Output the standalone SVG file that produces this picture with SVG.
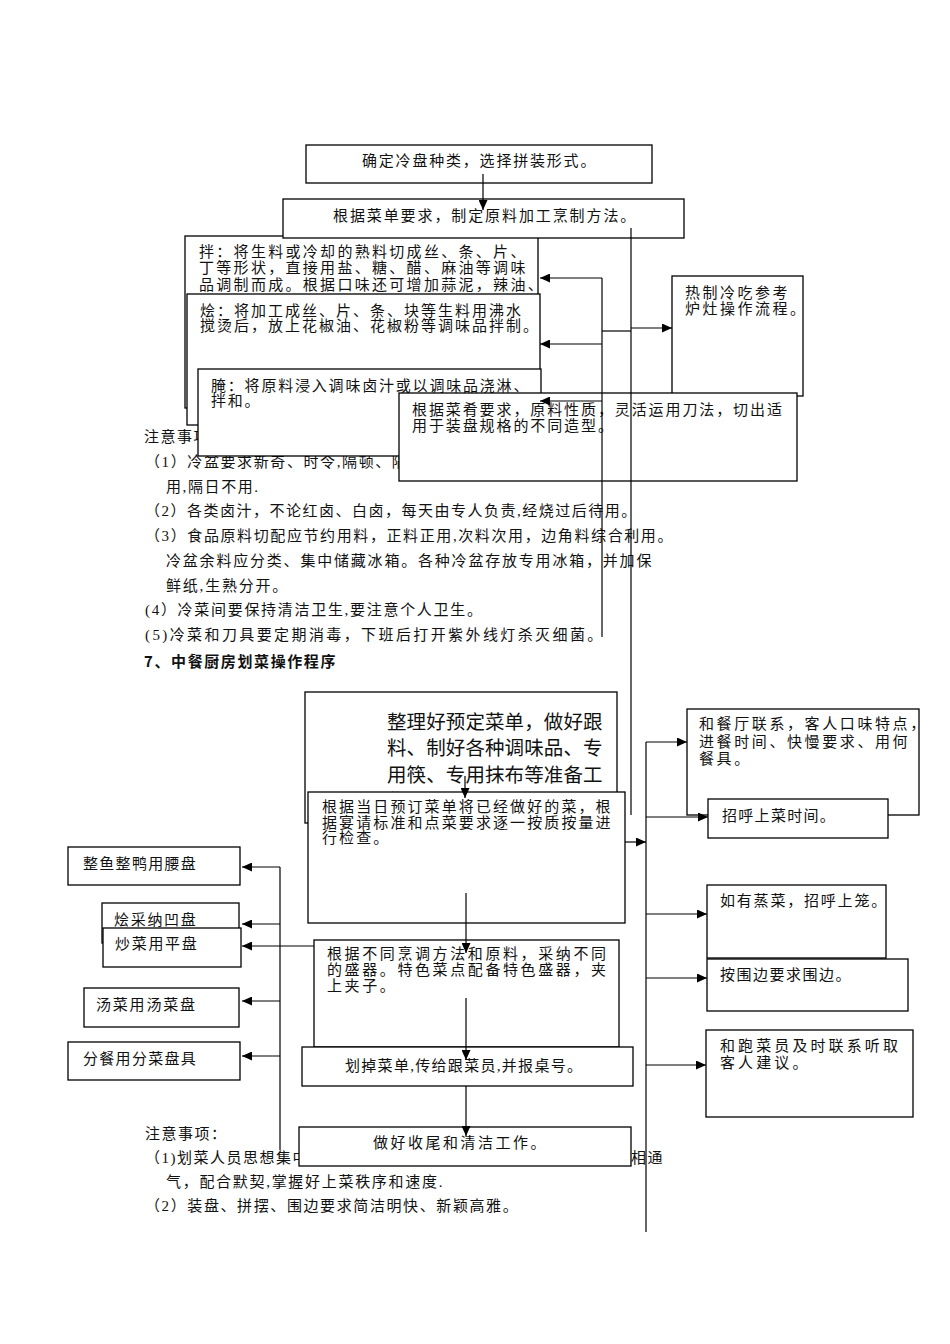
<svg xmlns="http://www.w3.org/2000/svg" width="950" height="1344" viewBox="0 0 950 1344">
<defs>
<style>
.box{fill:#fff;stroke:#000;stroke-width:1.3}
.t{font-family:"Liberation Serif","Noto Sans CJK SC",serif;font-size:15px;fill:#111}
.s{font-family:"Noto Sans CJK SC",sans-serif}
.b{font-family:"Noto Sans CJK SC",sans-serif;font-weight:bold}
.c{stroke:#000;stroke-width:1.2;fill:none}
.a{marker-end:url(#ah)}
</style>
<marker id="ah" markerUnits="userSpaceOnUse" markerWidth="10" markerHeight="9" refX="10" refY="4.5" orient="auto">
<path d="M0,0 L10,4.5 L0,9 z" fill="#000"/>
</marker>
</defs>
<rect width="950" height="1344" fill="#fff"/>

<g id="notes-top" class="t">
<text x="144" y="442" letter-spacing="1.5">注意事项：</text>
<text x="145" y="467" letter-spacing="1.6">（1）冷盆要求新奇、时令,隔顿、隔</text>
<text x="166" y="492" letter-spacing="1.6">用,隔日不用.</text>
<text x="145" y="516" letter-spacing="1.5">（2）各类卤汁，不论红卤、白卤，每天由专人负责,经烧过后待用。</text>
<text x="145" y="541" letter-spacing="1.6">（3）食品原料切配应节约用料，正料正用,次料次用，边角料综合利用。</text>
<text x="166" y="566" letter-spacing="1.8">冷盆余料应分类、集中储藏冰箱。各种冷盆存放专用冰箱，并加保</text>
<text x="166" y="591" letter-spacing="1.8">鲜纸,生熟分开。</text>
<text x="145" y="615" letter-spacing="1.7">(4）冷菜间要保持清洁卫生,要注意个人卫生。</text>
<text x="145" y="640" letter-spacing="2.4">(5)冷菜和刀具要定期消毒，下班后打开紫外线灯杀灭细菌。</text>
<text x="144" y="667" class="b" letter-spacing="1.6">7、中餐厨房划菜操作程序</text>
</g>

<g id="notes-bottom" class="t">
<text x="145" y="1139" letter-spacing="1.5">注意事项：</text>
<text x="145" y="1163" letter-spacing="1.5">（1)划菜人员思想集中</text>
<text x="631" y="1163" letter-spacing="1.5">相通</text>
<text x="166" y="1187" letter-spacing="1.7">气，配合默契,掌握好上菜秩序和速度.</text>
<text x="145" y="1211" letter-spacing="1.6">（2）装盘、拼摆、围边要求简洁明快、新颖高雅。</text>
</g>

<g id="n-select" class="t">
<rect class="box" x="306" y="145" width="346" height="38"/>
<text x="362" y="166" letter-spacing="1.8">确定冷盘种类，选择拼装形式。</text>
</g>
<g id="n-ban" class="t">
<rect class="box" x="185" y="236" width="353" height="172"/>
<text x="199" y="257" letter-spacing="2.3">拌：将生料或冷却的熟料切成丝、条、片、</text>
<text x="199" y="273" letter-spacing="2.3">丁等形状，直接用盐、糖、醋、麻油等调味</text>
<text x="199" y="290" letter-spacing="2.3">品调制而成。根据口味还可增加蒜泥，辣油、</text>
</g>
<g id="n-method" class="t">
<rect class="box" x="283" y="199" width="401" height="39"/>
<text x="333" y="221" letter-spacing="1.9">根据菜单要求，制定原料加工烹制方法。</text>
</g>
<g id="n-hui" class="t">
<rect class="box" x="187" y="294" width="353" height="131"/>
<text x="200" y="316" letter-spacing="2">烩：将加工成丝、片、条、块等生料用沸水</text>
<text x="200" y="331" letter-spacing="2">搅烫后，放上花椒油、花椒粉等调味品拌制。</text>
</g>
<g id="n-yan" class="t">
<rect class="box" x="198" y="369" width="343" height="87"/>
<text x="211" y="391" letter-spacing="1.8">腌：将原料浸入调味卤汁或以调味品浇淋、</text>
<text x="211" y="406" letter-spacing="1.8">拌和。</text>
</g>
<g id="n-hot" class="t">
<rect class="box" x="672" y="276" width="131" height="120"/>
<text x="685" y="298" letter-spacing="2.5">热制冷吃参考</text>
<text x="685" y="314" letter-spacing="2.5">炉灶操作流程。</text>
</g>
<g id="n-cut" class="t">
<rect class="box" x="399" y="393" width="398" height="88"/>
<text x="412" y="415" letter-spacing="1.9">根据菜肴要求，原料性质，灵活运用刀法，切出适</text>
<text x="412" y="431" letter-spacing="1.9">用于装盘规格的不同造型。</text>
</g>

<g id="n-prepare" class="t">
<rect class="box" x="305" y="692" width="312" height="131"/>
<text class="s" x="387" y="729" font-size="19.5" letter-spacing="0.1">整理好预定菜单，做好跟</text>
<text class="s" x="387" y="755" font-size="19.5" letter-spacing="0.1">料、制好各种调味品、专</text>
<text class="s" x="387" y="782" font-size="19.5" letter-spacing="0.1">用筷、专用抹布等准备工</text>
<text class="s" x="387" y="808" font-size="19.5" letter-spacing="0.1">作。</text>
</g>
<g id="n-check" class="t">
<rect class="box" x="308" y="792" width="317" height="131"/>
<text x="322" y="812" letter-spacing="2.1">根据当日预订菜单将已经做好的菜，根</text>
<text x="322" y="827.5" letter-spacing="2.1">据宴请标准和点菜要求逐一按质按量进</text>
<text x="322" y="843" letter-spacing="2.1">行检查。</text>
</g>
<g id="n-vessel" class="t">
<rect class="box" x="314" y="940" width="305" height="107"/>
<text x="327" y="959" letter-spacing="2.6">根据不同烹调方法和原料，采纳不同</text>
<text x="327" y="975" letter-spacing="2.6">的盛器。特色菜点配备特色盛器，夹</text>
<text x="327" y="991" letter-spacing="2.6">上夹子。</text>
</g>
<g id="n-cross" class="t">
<rect class="box" x="302" y="1047" width="331" height="39"/>
<text x="345" y="1071" letter-spacing="1.3">划掉菜单,传给跟菜员,并报桌号。</text>
</g>
<g id="n-finish" class="t">
<rect class="box" x="299" y="1127" width="332" height="39"/>
<text x="373" y="1148" letter-spacing="2.5">做好收尾和清洁工作。</text>
</g>

<g id="n-fish" class="t">
<rect class="box" x="68" y="847" width="172" height="38"/>
<text x="83" y="869" letter-spacing="1.3">整鱼整鸭用腰盘</text>
</g>
<g id="n-hui2" class="t">
<rect class="box" x="102" y="903" width="137" height="40"/>
<text x="114" y="925" letter-spacing="1.7">烩采纳凹盘</text>
</g>
<g id="n-chao" class="t">
<rect class="box" x="103" y="928" width="138" height="39"/>
<text x="115" y="949" letter-spacing="1.7">炒菜用平盘</text>
</g>
<g id="n-soup" class="t">
<rect class="box" x="84" y="988" width="155" height="39"/>
<text x="96" y="1010" letter-spacing="1.8">汤菜用汤菜盘</text>
</g>
<g id="n-split" class="t">
<rect class="box" x="68" y="1042" width="172" height="38"/>
<text x="83" y="1064" letter-spacing="1.3">分餐用分菜盘具</text>
</g>

<g id="n-hall" class="t">
<rect class="box" x="687" y="709" width="232" height="106"/>
<text x="699" y="729" letter-spacing="2.6">和餐厅联系，客人口味特点，</text>
<text x="699" y="747" letter-spacing="2.6">进餐时间、快慢要求、用何</text>
<text x="699" y="764" letter-spacing="2.6">餐具。</text>
</g>
<g id="n-time" class="t">
<rect class="box" x="708" y="799" width="180" height="39"/>
<text x="722" y="821" letter-spacing="1.3">招呼上菜时间。</text>
</g>
<g id="n-steam" class="t">
<rect class="box" x="707" y="885" width="179" height="73"/>
<text x="720" y="906" letter-spacing="1.8">如有蒸菜，招呼上笼。</text>
</g>
<g id="n-edge" class="t">
<rect class="box" x="707" y="959" width="201" height="52"/>
<text x="720" y="980" letter-spacing="1.5">按围边要求围边。</text>
</g>
<g id="n-runner" class="t">
<rect class="box" x="706" y="1030" width="207" height="87"/>
<text x="720" y="1051" letter-spacing="3.1">和跑菜员及时联系听取</text>
<text x="720" y="1068" letter-spacing="3.1">客人建议。</text>
</g>

<g id="connectors" class="c">
<line class="a" x1="483" y1="174" x2="483" y2="210"/>
<line x1="602" y1="278" x2="602" y2="637"/>
<line class="a" x1="602" y1="278" x2="540" y2="278"/>
<line class="a" x1="602" y1="344" x2="540" y2="344"/>
<line class="a" x1="602" y1="401" x2="540" y2="401"/>
<line x1="602" y1="331" x2="631" y2="331"/>
<line class="a" x1="631" y1="328" x2="672" y2="328"/>
<line x1="631" y1="228" x2="631" y2="815"/>

<line class="a" x1="465" y1="776" x2="465" y2="798"/>
<line class="a" x1="466" y1="893" x2="466" y2="953"/>
<line class="a" x1="466" y1="998" x2="466" y2="1060"/>
<line class="a" x1="466" y1="1086" x2="466" y2="1136"/>

<line x1="280" y1="867" x2="280" y2="1150"/>
<line class="a" x1="280" y1="867" x2="242" y2="867"/>
<line class="a" x1="280" y1="924" x2="242" y2="924"/>
<line class="a" x1="314" y1="946" x2="242" y2="946"/>
<line class="a" x1="280" y1="1001" x2="242" y2="1001"/>
<line class="a" x1="280" y1="1056" x2="242" y2="1056"/>

<line class="a" x1="625" y1="842" x2="646" y2="842"/>
<line x1="646" y1="742" x2="646" y2="1232"/>
<line class="a" x1="646" y1="742" x2="687" y2="742"/>
<line class="a" x1="646" y1="817" x2="708" y2="817"/>
<line class="a" x1="646" y1="914" x2="707" y2="914"/>
<line class="a" x1="646" y1="978" x2="707" y2="978"/>
<line class="a" x1="646" y1="1065" x2="706" y2="1065"/>
</g>
</svg>
